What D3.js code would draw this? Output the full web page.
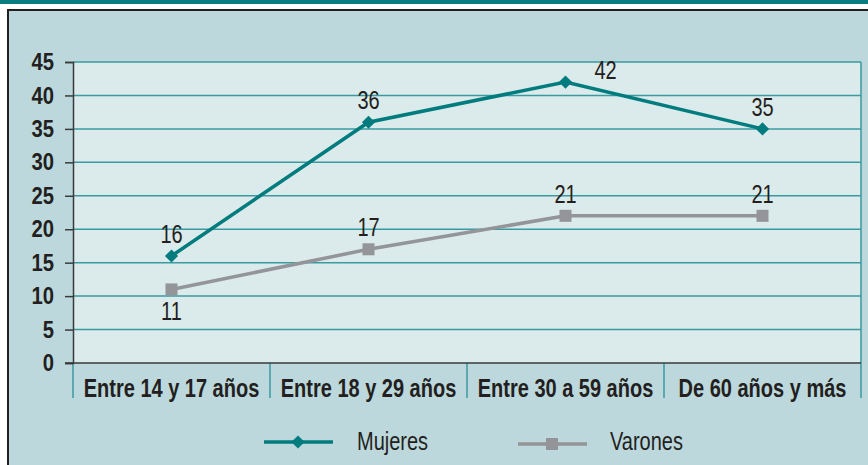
<!DOCTYPE html>
<html>
<head>
<meta charset="utf-8">
<script src="https://cdn.jsdelivr.net/npm/d3@7"></script>
<style>
  body { margin: 0; background: #fff; }
  svg { display: block; }
  text { font-family: "Liberation Sans", Arial, sans-serif; fill: #231f20; }
</style>
</head>
<body>
<svg id="chart" width="868" height="465"></svg>
<script>
const categories = ['Entre 14 y 17 años', 'Entre 18 y 29 años', 'Entre 30 a 59 años', 'De 60 años y más'];
const mujeres = [16, 36, 42, 35];
const varones = [11, 17, 22, 22];
// the printed labels (the 21s sit on points drawn at 22)
const mujeresLabels = ['16', '36', '42', '35'];
const varonesLabels = ['11', '17', '21', '21'];
const yTicks = [0, 5, 10, 15, 20, 25, 30, 35, 40, 45];

const teal = '#007c7f';
const grey = '#939598';
const grid = '#3a9aa0';

const svg = d3.select('#chart');

// squeezed text, to stand in for a condensed face
function narrow(g, px, py, str, size, sx, opts) {
  opts = opts || {};
  return g.append('text')
    .attr('transform', 'translate(' + px + ',' + py + ') scale(' + sx + ',1)')
    .attr('text-anchor', opts.anchor || 'middle')
    .attr('dy', opts.dy || 0)
    .attr('font-size', size)
    .attr('font-weight', opts.bold ? 'bold' : 'normal')
    .text(str);
}

// frame
svg.append('rect').attr('x', 0).attr('y', 0).attr('width', 868).attr('height', 4).attr('fill', '#0a7d80');
svg.append('rect').attr('x', 8).attr('y', 10).attr('width', 860).attr('height', 455).attr('fill', '#bcd8dc');
svg.append('line').attr('x1', 7).attr('x2', 868).attr('y1', 10).attr('y2', 10)
  .attr('stroke', '#231f20').attr('stroke-width', 2);
svg.append('line').attr('x1', 8).attr('x2', 8).attr('y1', 10).attr('y2', 465)
  .attr('stroke', '#231f20').attr('stroke-width', 2);

const x = d3.scaleBand().domain(categories).range([73, 861]).padding(0);
const y = d3.scaleLinear().domain([0, 45]).range([363, 62]);

// plot area
svg.append('rect')
  .attr('x', x.range()[0]).attr('y', y(45))
  .attr('width', x.range()[1] - x.range()[0]).attr('height', y(0) - y(45))
  .attr('fill', '#dbeaea');

svg.append('g').selectAll('line')
  .data(yTicks.filter(d => d > 0))
  .enter().append('line')
  .attr('x1', 73).attr('x2', 861)
  .attr('y1', d => y(d)).attr('y2', d => y(d))
  .attr('stroke', grid).attr('stroke-width', 1.5);
svg.append('line').attr('x1', 861).attr('x2', 861).attr('y1', y(45)).attr('y2', 398)
  .attr('stroke', grid).attr('stroke-width', 1.5);

// category separators
const bounds = categories.map(c => x(c));
svg.append('g').selectAll('line')
  .data(bounds)
  .enter().append('line')
  .attr('x1', d => d).attr('x2', d => d)
  .attr('y1', y(0)).attr('y2', 398)
  .attr('stroke', grid).attr('stroke-width', 1.5);

// y axis
const yAxis = svg.append('g').attr('transform', 'translate(73,0)')
  .call(d3.axisLeft(y).tickValues(yTicks).tickSize(8).tickFormat(''));
yAxis.select('.domain').attr('stroke', '#3a3a3a').attr('stroke-width', 1.5);
yAxis.selectAll('.tick line').attr('stroke', '#3a3a3a').attr('stroke-width', 1.5);
const yLbl = svg.append('g');
yTicks.forEach(t => {
  narrow(yLbl, 54, y(t), String(t), 23, 0.88, { anchor: 'end', bold: true, dy: '0.35em' });
});

// x axis line
svg.append('line').attr('x1', 65).attr('x2', 861).attr('y1', y(0)).attr('y2', y(0))
  .attr('stroke', '#3a3a3a').attr('stroke-width', 1.5);

const catG = svg.append('g');
categories.forEach(c => {
  narrow(catG, x(c) + x.bandwidth() / 2, 397, c, 25, 0.8, { bold: true });
});

const cx = d => x(d) + x.bandwidth() / 2;
const line = d3.line()
  .x(d => cx(d.cat))
  .y(d => y(d.v));

const mData = categories.map((c, i) => ({ cat: c, v: mujeres[i], label: mujeresLabels[i] }));
const vData = categories.map((c, i) => ({ cat: c, v: varones[i], label: varonesLabels[i] }));

// varones
svg.append('path').datum(vData).attr('d', line)
  .attr('fill', 'none').attr('stroke', grey).attr('stroke-width', 3.5);
svg.append('g').selectAll('rect')
  .data(vData)
  .enter().append('rect')
  .attr('x', d => cx(d.cat) - 6).attr('y', d => y(d.v) - 6)
  .attr('width', 12).attr('height', 12)
  .attr('fill', grey);

// mujeres
svg.append('path').datum(mData).attr('d', line)
  .attr('fill', 'none').attr('stroke', teal).attr('stroke-width', 3.5);
const diamond = d3.symbol().type(d3.symbolDiamond2).size(110);
svg.append('g').selectAll('path')
  .data(mData)
  .enter().append('path')
  .attr('d', diamond)
  .attr('transform', d => 'translate(' + cx(d.cat) + ',' + y(d.v) + ')')
  .attr('fill', teal);

// data labels
const labelOff = {
  mujeres: [[0, -22], [0, -22], [40, -12], [0, -22]],
  varones: [[0, 22], [0, -22], [0, -22], [0, -22]],
};
const lblG = svg.append('g');
mData.forEach((d, i) => {
  narrow(lblG, cx(d.cat) + labelOff.mujeres[i][0], y(d.v) + labelOff.mujeres[i][1],
    d.label, 25, 0.8, { dy: '0.36em' });
});
vData.forEach((d, i) => {
  narrow(lblG, cx(d.cat) + labelOff.varones[i][0], y(d.v) + labelOff.varones[i][1],
    d.label, 25, 0.8, { dy: '0.36em' });
});

// legend
const legend = svg.append('g');
legend.append('line').attr('x1', 264).attr('x2', 333).attr('y1', 442).attr('y2', 442)
  .attr('stroke', teal).attr('stroke-width', 3.5);
legend.append('path').attr('d', diamond)
  .attr('transform', 'translate(298,442)').attr('fill', teal);
narrow(legend, 357, 450, 'Mujeres', 25, 0.8, { anchor: 'start' });

legend.append('line').attr('x1', 518).attr('x2', 587).attr('y1', 444).attr('y2', 444)
  .attr('stroke', grey).attr('stroke-width', 3.5);
legend.append('rect').attr('x', 546).attr('y', 438).attr('width', 12).attr('height', 12)
  .attr('fill', grey);
narrow(legend, 610, 450, 'Varones', 25, 0.8, { anchor: 'start' });
</script>
</body>
</html>
